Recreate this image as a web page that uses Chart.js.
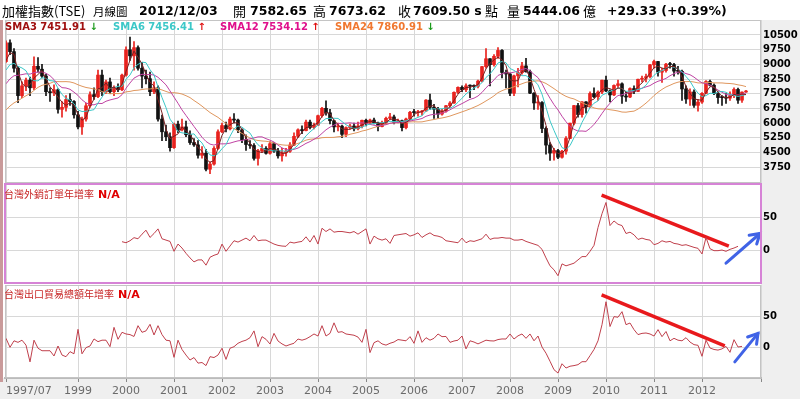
<!DOCTYPE html>
<html>
<head>
<meta charset="utf-8">
<script src="https://cdn.jsdelivr.net/npm/chart.js"></script>
<style>
  body { margin: 0; width: 800px; height: 399px; position: relative; overflow: hidden; background: #fff; font-family: 'DejaVu Sans', sans-serif; }
  canvas { position: absolute; left: 0; }
  .strip { position: absolute; background: #efefef; }
  .t { position: absolute; top: 0; line-height: 22px; white-space: nowrap; color: #000; }
  .cjk { font-family: 'Noto Sans CJK TC', sans-serif; font-size: 13px; }
  .num { font-weight: bold; font-size: 12.5px; }
  .sma { position: absolute; top: 20px; line-height: 14px; font-size: 10px; font-weight: bold; white-space: nowrap; }
  .lbl { position: absolute; line-height: 14px; white-space: nowrap; }
  .lbl .zh { font-family: 'Noto Sans CJK TC', sans-serif; font-size: 10px; color: #c82828; }
  .lbl .na { font-size: 11px; font-weight: bold; color: #e00000; margin-left: 4px; }
</style>
</head>
<body>
<div class="strip" style="left:761px;top:20px;width:39px;height:379px"></div>
<div class="strip" style="left:0;top:378px;width:800px;height:21px"></div>
<div style="position:absolute;left:0;top:20px;width:3px;height:362px;background:#c99a9a"></div>

<canvas id="priceChart" width="800" height="186" style="top:0"></canvas>
<canvas id="ordersChart" width="800" height="108" style="top:180px"></canvas>
<canvas id="exportsChart" width="800" height="117" style="top:282px"></canvas>

<!-- header -->
<div class="t cjk" style="left:2px">加權指數(TSE)</div>
<div class="t cjk" style="left:93px;font-size:11.5px">月線圖</div>
<div class="t num" style="left:139px">2012/12/03</div>
<div class="t cjk" style="left:233px">開</div>
<div class="t num" style="left:250px">7582.65</div>
<div class="t cjk" style="left:313px">高</div>
<div class="t num" style="left:329px">7673.62</div>
<div class="t cjk" style="left:398px">收</div>
<div class="t num" style="left:413px">7609.50 s</div>
<div class="t cjk" style="left:485px">點</div>
<div class="t cjk" style="left:507px">量</div>
<div class="t num" style="left:523px">5444.06</div>
<div class="t cjk" style="left:583px">億</div>
<div class="t num" style="left:607px">+29.33 (+0.39%)</div>

<div class="sma" style="left:5px;color:#a01010">SMA3 7451.91 <span style="color:#1a9a1a">↓</span></div>
<div class="sma" style="left:113px;color:#3cc8c8">SMA6 7456.41 <span style="color:#e01010">↑</span></div>
<div class="sma" style="left:220px;color:#e0108c">SMA12 7534.12 <span style="color:#e01010">↑</span></div>
<div class="sma" style="left:335px;color:#f07830">SMA24 7860.91 <span style="color:#1a9a1a">↓</span></div>

<div class="lbl" style="left:4px;top:186px"><span class="zh">台灣外銷訂單年增率</span><span class="na">N/A</span></div>
<div class="lbl" style="left:4px;top:286px"><span class="zh">台灣出口貿易總額年增率</span><span class="na">N/A</span></div>

<script>
// month index 0 = 1997/07 ... 185 = 2012/12
const xTickIdx = [0, 18, 30, 42, 54, 66, 78, 90, 102, 114, 126, 138, 150, 162, 174];
const xTickLabels = ['1997/07', '1999', '2000', '2001', '2002', '2003', '2004', '2005', '2006', '2007', '2008', '2009', '2010', '2011', '2012'];
const priceTicks = [3750, 4500, 5250, 6000, 6750, 7500, 8250, 9000, 9750, 10500];
const rateTicks = [0, 50];

// closes before 1997/07, only used to start the moving averages
const preCloses = [4900, 5000, 4800, 4700, 5173,
  5200, 5000, 5000, 5900, 6300, 6400, 5700, 6600, 6900, 7100, 7500, 7700,
  8000, 8000, 8400, 8300, 8430, 9030];

const opens = [
  9140, 10100, 9650, 8800, 7400, 7900,
  8187, 7800, 8900, 8750, 8400, 7600, 7550, 7700, 6700, 6800, 7200, 7100,
  6418, 5800, 6200, 6880, 7450, 7350, 8450, 7600, 8100, 7600, 7800, 7700,
  8448, 9744, 9436, 9854, 8800, 8400, 8265, 7600, 7800, 6200, 5550, 5300,
  4739, 5936, 5650, 5800, 5400, 5000, 4880, 4350, 4450, 3636, 3900, 4700,
  5551, 5870, 5700, 6200, 6150, 5650, 5150, 4900, 4850, 4191, 4579, 4700,
  4452, 4942, 4560, 4321, 4480, 4555, 4872, 5318, 5650, 5611, 6045, 5771,
  5890, 6375, 6750, 6522, 6117, 5800, 5840, 5420, 5765, 5845, 5705, 5844,
  6140, 5994, 6150, 6006, 5818, 6011, 6241, 6311, 6033, 6118, 5765, 6203,
  6548, 6532, 6561, 6613, 7171, 6800, 6704, 6455, 6611, 6884, 7021, 7567,
  7823, 7701, 7902, 7884, 7875, 8145, 8883, 9287, 8982, 9411, 9711, 8586,
  8506, 7521, 8412, 8572, 8919, 8620, 7524, 7024, 7046, 5720, 4871, 4461,
  4591, 4248, 4557, 5210, 5992, 6890, 6432, 7078, 6826, 7509, 7340, 7582,
  8188, 7640, 7436, 7920, 8004, 7374, 7329, 7760, 7616, 8237, 8287, 8372,
  8973, 9145, 8600, 8683, 9008, 8988, 8653, 8644, 7741, 7225, 7587, 6904,
  7072, 7518, 8121, 7933, 7502, 7301, 7297, 7270, 7397, 7715, 7166, 7582.65
];
const highs = [
  10200, 10256, 9800, 8900, 8100, 8300,
  8350, 9378, 9350, 9000, 8500, 7800, 7950, 7750, 7100, 7400, 7500, 7150,
  6600, 6300, 7000, 7600, 7800, 8700, 8700, 8200, 8300, 7900, 8000, 8500,
  9900, 10393, 10160, 9950, 9100, 8700, 8600, 8100, 7900, 6400, 5900, 5500,
  6000, 6100, 6200, 6100, 5600, 5200, 5100, 4800, 4650, 4000, 4800, 5650,
  6000, 6050, 6300, 6484, 6200, 5700, 5400, 5100, 4950, 4650, 4900, 4800,
  5050, 5000, 4700, 4700, 4700, 5000, 5500, 5700, 5850, 6150, 6150, 6000,
  6400, 6800, 7135, 6700, 6150, 6000, 5900, 5800, 5950, 6000, 6050, 6150,
  6200, 6200, 6250, 6050, 6100, 6300, 6500, 6400, 6200, 6150, 6250, 6600,
  6700, 6650, 6650, 7200, 7474, 6950, 6800, 6700, 6900, 7100, 7600, 7850,
  7900, 8000, 7950, 7950, 8200, 8900, 9800, 9300, 9500, 9859, 9750, 8700,
  8550, 8450, 8800, 9100, 9309, 8700, 7550, 7400, 7100, 5800, 5000, 4700,
  4650, 4600, 5300, 6000, 6900, 7000, 7100, 7100, 7600, 7800, 7650, 8200,
  8400, 7700, 7950, 8190, 8050, 7600, 7800, 7900, 8250, 8400, 8500, 9000,
  9220, 9150, 8800, 9050, 9100, 9050, 8900, 8700, 7900, 7750, 7700, 7200,
  7550, 8170, 8200, 8000, 7600, 7400, 7500, 7600, 7800, 7780, 7600, 7673.62
];
const lows = [
  9100, 9500, 8600, 7040, 7300, 7650,
  7400, 7700, 8600, 8300, 7400, 7100, 7400, 6500, 6300, 6600, 6900, 6250,
  5700, 5422, 6100, 6800, 7200, 7300, 7400, 7500, 7500, 7400, 7600, 7650,
  8400, 9200, 8700, 8700, 7800, 8000, 7400, 7500, 6100, 5100, 5100, 4555,
  4700, 5500, 5600, 5300, 4900, 4800, 4200, 4200, 3550, 3411, 3850, 4650,
  5500, 5550, 5650, 6000, 5500, 5000, 4600, 4700, 4100, 3850, 4500, 4400,
  4400, 4500, 4200, 4044, 4300, 4500, 4850, 5250, 5450, 5600, 5700, 5700,
  5880, 6300, 6400, 5950, 5550, 5600, 5250, 5300, 5700, 5600, 5650, 5750,
  5850, 5950, 5950, 5600, 5800, 5950, 6200, 5950, 6000, 5600, 5700, 6150,
  6350, 6350, 6400, 6600, 6700, 6230, 6250, 6400, 6550, 6800, 7000, 7500,
  7600, 7600, 7300, 7700, 7800, 8100, 8800, 7900, 8900, 9300, 8300, 7800,
  7400, 7400, 7850, 8500, 8600, 7500, 6700, 6700, 5500, 4400, 4090, 4100,
  4180, 4200, 4400, 5200, 5900, 6300, 6300, 6500, 6800, 7300, 7150, 7500,
  7600, 7080, 7400, 7800, 7000, 7100, 7300, 7500, 7600, 8100, 8100, 8300,
  8800, 8400, 8070, 8600, 8800, 8400, 8500, 7150, 7000, 6900, 6800, 6600,
  7000, 7500, 7900, 7450, 7000, 6900, 7000, 7150, 7300, 7000, 7050, 7570
];
const closes = [
  10100, 9650, 8800, 7400, 7900, 8187,
  7800, 8900, 8750, 8400, 7600, 7550, 7700, 6700, 6800, 7200, 7100, 6418,
  5800, 6200, 6880, 7450, 7350, 8450, 7600, 8100, 7600, 7800, 7700, 8448,
  9744, 9436, 9854, 8800, 8400, 8265, 7600, 7800, 6200, 5550, 5300, 4739,
  5936, 5650, 5800, 5400, 5000, 4880, 4350, 4450, 3636, 3900, 4700, 5551,
  5870, 5700, 6200, 6150, 5650, 5150, 4900, 4850, 4191, 4579, 4700, 4452,
  4942, 4560, 4321, 4480, 4555, 4872, 5318, 5650, 5611, 6045, 5771, 5890,
  6375, 6750, 6522, 6117, 5800, 5840, 5420, 5765, 5845, 5705, 5844, 6140,
  5994, 6150, 6006, 5818, 6011, 6241, 6311, 6033, 6118, 5765, 6203, 6548,
  6532, 6561, 6613, 7171, 6800, 6704, 6455, 6611, 6884, 7021, 7567, 7823,
  7701, 7902, 7884, 7875, 8145, 8883, 9287, 8982, 9411, 9711, 8586, 8506,
  7521, 8412, 8572, 8919, 8620, 7524, 7024, 7046, 5720, 4871, 4461, 4591,
  4248, 4557, 5210, 5992, 6890, 6432, 7078, 6826, 7509, 7340, 7582, 8188,
  7640, 7436, 7920, 8004, 7374, 7329, 7760, 7616, 8237, 8287, 8372, 8973,
  9145, 8600, 8683, 9008, 8988, 8653, 8644, 7741, 7225, 7587, 6904, 7072,
  7518, 8121, 7933, 7502, 7301, 7297, 7270, 7397, 7715, 7166, 7580, 7609.5
];

// 台灣外銷訂單年增率 (%), starts at month index 29 (1999/12)
const ordersStart = 29;
const ordersRate = [
  12.6,
  11, 14, 18.7, 17, 24, 30, 19, 25, 32, 17, 15, 13,
  -2, 9, 3, -5, -12, -18, -15, -15, -23, -11, -8, -6,
  9, -2, 6, 14, 12, 15, 18, 14, 22, 14, 15, 15,
  12, 9, 7, 6, 5.6, 12, 10.6, 12, 13, 20, 12, 22,
  9, 33, 28, 32, 27, 28, 28, 27, 26, 28, 24, 28,
  32, 9, 21, 17, 15, 17, 10, 22, 23, 24, 25, 21,
  23, 26, 19, 23, 26, 22, 21, 19, 14, 13, 12, 11,
  18, 11, 14, 13, 15, 17, 24, 16, 18, 18, 19, 18,
  18, 15, 15, 16, 13, 11, 9, 7, 1, -12, -24, -30,
  -39, -21, -24, -22, -20, -15, -10, -10, -2, 7, 34, 55,
  72, 37, 44, 39, 37, 25, 27, 23, 16, 18, 16, 15,
  8, 10, 14, 12, 13, 10, 9, 7, 8, 6, 4, 2.5,
  -6, 19, 2, -1, -1, 0, -2, 1, 3, 5.6
];

// 台灣出口貿易總額年增率 (%), starts at month index 0 (1997/07)
const exportsRate = [
  14, -0.5, 10, 7.5, 11, 3,
  -24, 11, -2, -6, -6, -6, -14.5, 1.6, -13, -15.6, -7.5, -11,
  28.5, -11, -1, 1.6, 13, 8.6, 11, 11, 0.5, 31.7, 12.4, 23.7,
  21, 20, 17, 34.4, 23.7, 26, 36.6, 19.4, 34.4, 20, 11, 10,
  -16.7, 11, -4, -13, -21, -17, -26, -25, -30, -15.6, -17, -13,
  -2, -20, -2, 0.5, 6, 9, 11, 15, 26, 0.5, 16.7, 12.4,
  4.8, 22, 9.7, 5, 1.6, 4, 6, 12.9, 11, 13, 16.7, 21,
  17.7, 34.4, 17.7, 22, 39, 23.7, 24.7, 21, 20, 19, 16, 7.5,
  28.5, -9, 7, 10, 5, 3, 6, 8, 12, 11, 10, 16.7,
  5.9, 26, 7.5, 15, 11, 14, 21, 16.7, 17, 7.5, 9.7, 11,
  17.7, -3, 10, 8, 5, 8, 11, 10, 9.7, 12, 13, 12.9,
  21, 12.9, 18, 21, 14, 21, 10, 17.7, 0, -10, -23, -36.6,
  -42, -27, -33.9, -31, -30, -28.5, -23.7, -23.7, -14, -4, 10, 36,
  73, 33, 49, 48, 57, 36, 38.7, 28, 20, 22, 22.6, 21,
  17.7, 28, 16.7, 25, 10, 14, 11, 10, 15, 8, 3.8, 2.7,
  -15, 11, -1.6, -4, -5, -3, 1, -8.6, 11.8, 0, 1
];

// hand-drawn trend lines and arrows (month index / percent)
const ordersTrendX = [148.9, 180.7];
const ordersTrendY = [83, 6];
const ordersArrowX = [180, 188.5];
const ordersArrowY = [-20, 25];
const exportsTrendX = [148.9, 179.7];
const exportsTrendY = [84, 2];
const exportsArrowX = [182.2, 188];
const exportsArrowY = [-24, 22];

const xMin = -0.25;
const xMax = 188.75;
const gridColor = '#d8d8d8';

Chart.defaults.font.family = "'DejaVu Sans', sans-serif";
Chart.defaults.animation = false;
Chart.defaults.plugins.legend.display = false;
Chart.defaults.plugins.tooltip.enabled = false;

// white plot area, frame, arrow heads
const panelPlugin = {
  id: 'panel',
  beforeDraw(chart, args, opts) {
    const { ctx, chartArea: a } = chart;
    ctx.save();
    ctx.fillStyle = '#fff';
    ctx.fillRect(a.left, a.top, a.right - a.left, a.bottom - a.top);
    ctx.restore();
  },
  afterDraw(chart, args, opts) {
    const { ctx, chartArea: a } = chart;
    ctx.save();
    chart.data.datasets.forEach((ds, i) => {
      if (!ds.arrowHead) return;
      const pts = chart.getDatasetMeta(i).data;
      const p0 = pts[pts.length - 2];
      const p1 = pts[pts.length - 1];
      const ang = Math.atan2(p1.y - p0.y, p1.x - p0.x);
      ctx.strokeStyle = ds.borderColor;
      ctx.lineWidth = ds.borderWidth;
      ctx.lineCap = 'round';
      ctx.beginPath();
      ctx.moveTo(p1.x - 11 * Math.cos(ang - 0.55), p1.y - 11 * Math.sin(ang - 0.55));
      ctx.lineTo(p1.x, p1.y);
      ctx.lineTo(p1.x - 11 * Math.cos(ang + 0.55), p1.y - 11 * Math.sin(ang + 0.55));
      ctx.stroke();
    });
    ctx.strokeStyle = opts.frameColor || '#c0c0c0';
    ctx.lineWidth = opts.frameWidth || 1;
    const off = ctx.lineWidth % 2 ? 0.5 : 0;
    ctx.strokeRect(a.left + off, a.top + off, a.right - a.left - 2 * off, a.bottom - a.top - 2 * off);
    ctx.restore();
  }
};
Chart.register(panelPlugin);

function xAxis(showLabels) {
  return {
    type: 'linear',
    min: xMin,
    max: xMax,
    offset: false,
    afterBuildTicks: scale => {
      scale.ticks = xTickIdx.map(v => ({ value: v })).concat([{ value: xMax }]);
    },
    afterFit: scale => {
      scale.paddingLeft = 0;
      scale.paddingRight = 0;
      scale.height = showLabels ? 21 : 0;
    },
    grid: { color: gridColor, offset: false, drawTicks: showLabels, tickLength: 4, tickColor: '#888' },
    border: { display: showLabels, color: '#bbb', width: 2 },
    ticks: {
      display: showLabels,
      autoSkip: false,
      maxRotation: 0,
      align: 'inner',
      padding: 3,
      color: '#6a6a6a',
      font: { size: 11 },
      callback: (value, index) => xTickLabels[index] || ''
    }
  };
}

function yAxis(min, max, tickValues) {
  return {
    position: 'right',
    min: min,
    max: max,
    afterBuildTicks: scale => {
      scale.ticks = tickValues.map(v => ({ value: v }));
    },
    afterFit: scale => {
      scale.width = 39;
      scale.paddingTop = 0;
      scale.paddingBottom = 0;
    },
    grid: { color: gridColor, drawTicks: false },
    border: { display: false },
    ticks: {
      padding: 2,
      color: '#000',
      font: { size: 10, weight: 'bold' },
      callback: value => String(value)
    }
  };
}

function movingAverage(n) {
  const all = preCloses.concat(closes);
  return closes.map((c, i) => {
    const end = i + preCloses.length;
    let sum = 0;
    for (let k = end - n + 1; k <= end; k++) sum += all[k];
    return { x: i, y: sum / n };
  });
}

function smaLine(n, color) {
  return {
    type: 'line',
    data: movingAverage(n),
    borderColor: color,
    borderWidth: 1,
    pointRadius: 0,
    order: 0
  };
}

function createPriceChart() {
  const ctx = document.getElementById('priceChart').getContext('2d');
  const candleColors = closes.map((c, i) => c >= opens[i] ? '#e8221e' : '#111');

  return new Chart(ctx, {
    type: 'bar',
    data: {
      datasets: [
        smaLine(3, '#7a2020'),
        smaLine(6, '#3cc8c8'),
        smaLine(12, '#c044a4'),
        smaLine(24, '#e0975e'),
        {
          data: closes.map((c, i) => ({ x: i, y: [opens[i], c] })),
          backgroundColor: candleColors,
          barThickness: 3,
          minBarLength: 1,
          grouped: false,
          order: 1
        },
        {
          data: closes.map((c, i) => ({ x: i, y: [lows[i], highs[i]] })),
          backgroundColor: candleColors,
          barThickness: 1,
          grouped: false,
          order: 2
        }
      ]
    },
    options: {
      responsive: false,
      layout: { padding: { top: 20, left: 5, right: 0, bottom: 3 } },
      scales: {
        x: xAxis(false),
        y: yAxis(2932, 11267, priceTicks)
      },
      plugins: { panel: { frameColor: '#c4c4c4', frameWidth: 1 } }
    }
  });
}

function rateChart(canvasId, start, values, trendX, trendY, arrowX, arrowY, showLabels, padding, frame) {
  const ctx = document.getElementById(canvasId).getContext('2d');

  return new Chart(ctx, {
    type: 'line',
    data: {
      datasets: [
        {
          data: values.map((v, i) => ({ x: start + i, y: v })),
          borderColor: '#c0404c',
          borderWidth: 1,
          pointRadius: 0
        },
        {
          data: trendX.map((x, i) => ({ x: x, y: trendY[i] })),
          borderColor: '#e8191c',
          borderWidth: 3.5,
          pointRadius: 0,
          clip: false
        },
        {
          data: arrowX.map((x, i) => ({ x: x, y: arrowY[i] })),
          borderColor: '#4063e6',
          borderWidth: 3,
          borderCapStyle: 'round',
          pointRadius: 0,
          clip: false,
          arrowHead: true
        }
      ]
    },
    options: {
      responsive: false,
      layout: { padding: padding },
      scales: {
        x: xAxis(showLabels),
        y: yAxis(-50, 100, rateTicks)
      },
      plugins: { panel: frame }
    }
  });
}

createPriceChart();
rateChart('ordersChart', ordersStart, ordersRate, ordersTrendX, ordersTrendY, ordersArrowX, ordersArrowY,
  false, { top: 4, left: 5, right: 0, bottom: 5 }, { frameColor: '#d683d6', frameWidth: 2 });
rateChart('exportsChart', 0, exportsRate, exportsTrendX, exportsTrendY, exportsArrowX, exportsArrowY,
  true, { top: 3, left: 5, right: 0, bottom: 0 }, { frameColor: '#c4c4c4', frameWidth: 1 });
</script>
</body>
</html>
